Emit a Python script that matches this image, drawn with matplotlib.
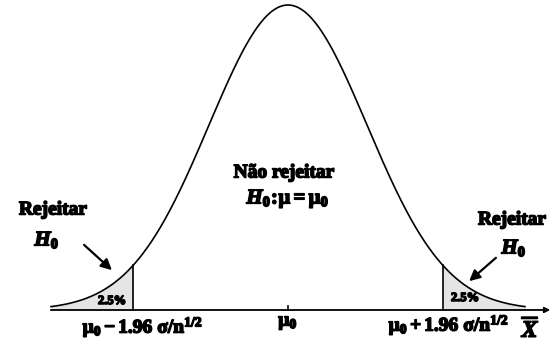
import numpy as np
import matplotlib
matplotlib.use("Agg")
import matplotlib.pyplot as plt
import matplotlib.patheffects as pe

# ---- data ----
z_crit = 1.96            # critical value (in standard errors)
z_range = 3.0            # extent of drawn curve
tail_labels = ["2.5%", "2.5%"]
region_reject = "Rejeitar"
region_accept = "Não rejeitar"
x_labels = [r"$\mathbf{\mu_0 - 1.96\ \sigma/n^{1/2}}$", r"$\mathbf{\mu_0}$",
            r"$\mathbf{\mu_0 + 1.96\ \sigma/n^{1/2}}$"]

plt.rcParams['mathtext.fontset'] = 'custom'
plt.rcParams['mathtext.rm'] = 'Liberation Serif:bold'
plt.rcParams['mathtext.bf'] = 'Liberation Serif:bold'
plt.rcParams['mathtext.it'] = 'Liberation Serif:italic:bold'
plt.rcParams['font.family'] = ['Liberation Serif', 'DejaVu Serif']

def pdf(z):
    return np.exp(-z**2 / 2) / np.sqrt(2 * np.pi)

fig = plt.figure(figsize=(5.53, 3.52), dpi=100)
ax = fig.add_axes([0, 0, 1, 1])
ax.set_xlim(-288/79, (553-288)/79)
ax.set_ylim(-(352-310)/764.5, 310/764.5)
ax.axis('off')

def P(px, py):
    return ((px-288)/79, (310-py)/764.5)

bold = [pe.withStroke(linewidth=1.1, foreground='black')]

z = np.linspace(-z_range, z_range, 600)
ax.plot(z, pdf(z), color='black', lw=1.2)

zl = np.linspace(-z_range, -z_crit, 200)
ax.fill_between(zl, 0, pdf(zl), color='#e4e4e4', lw=0)
zr = np.linspace(z_crit, z_range, 200)
ax.fill_between(zr, 0, pdf(zr), color='#e4e4e4', lw=0)
ax.plot([-z_crit, -z_crit], [0, pdf(z_crit)], color='black', lw=1.2)
ax.plot([z_crit, z_crit], [0, pdf(z_crit)], color='black', lw=1.2)

# axis with arrow
x0 = P(48, 310)[0]
x1 = P(553, 310)[0]
ax.annotate('', xy=(x1, 0), xytext=(x0, 0),
            arrowprops=dict(arrowstyle='-|>', color='black', lw=1.3, mutation_scale=8))
ax.plot([0, 0], [0, P(0, 306)[1]], color='black', lw=1.2)

fs = 14
# Left reject
ax.text(*P(53, 210), region_reject, ha='center', va='center', fontsize=fs,
        fontweight='bold', path_effects=bold)
ax.text(*P(47, 240), r"$H_0$", ha='center', va='center', fontsize=fs+1, path_effects=bold)
ax.annotate('', xy=P(114, 272), xytext=P(82, 243),
            arrowprops=dict(arrowstyle='-|>', color='black', lw=1.6, mutation_scale=16))
# Right reject
ax.text(*P(478, 220), region_reject, ha='left', va='center', fontsize=fs,
        fontweight='bold', path_effects=bold)
ax.text(*P(514, 248), r"$H_0$", ha='center', va='center', fontsize=fs+1, path_effects=bold)
ax.annotate('', xy=P(467, 283), xytext=P(498, 256),
            arrowprops=dict(arrowstyle='-|>', color='black', lw=1.6, mutation_scale=16))
# Accept region
ax.text(*P(284, 173), region_accept, ha='center', va='center', fontsize=fs,
        fontweight='bold', path_effects=bold)
ax.text(*P(288, 199), r"$H_0\!:\!\mathbf{\mu = \mu_0}$", ha='center', va='center',
        fontsize=fs+1, path_effects=bold)

# tail percentages
ax.text(*P(112, 301), tail_labels[0], ha='center', va='center', fontsize=9,
        fontweight='bold', path_effects=bold)
ax.text(*P(465, 298), tail_labels[1], ha='center', va='center', fontsize=9,
        fontweight='bold', path_effects=bold)

# x labels
ax.text(*P(143, 327), x_labels[0], ha='center', va='center', fontsize=14, path_effects=bold)
ax.text(*P(288, 323), x_labels[1], ha='center', va='center', fontsize=14, path_effects=bold)
ax.text(*P(449, 325), x_labels[2], ha='center', va='center', fontsize=14, path_effects=bold)
ax.text(*P(531, 330), r"$\overline{X}$", ha='center', va='center', fontsize=17,
        path_effects=bold)

fig.savefig('out.png', dpi=100)
